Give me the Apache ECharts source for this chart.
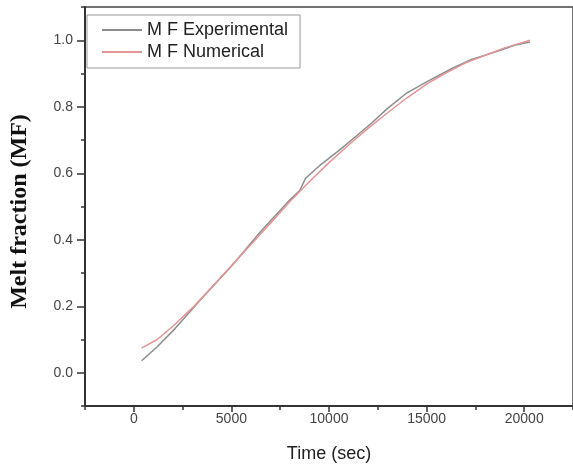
<!DOCTYPE html>
<html>
<head>
<meta charset="utf-8">
<script src="https://cdn.jsdelivr.net/npm/echarts@6/dist/echarts.min.js"></script>
<style>
  html, body { margin: 0; padding: 0; background: #fff; }
  #chart { width: 573px; height: 468px; }
</style>
</head>
<body>
<div id="chart"></div>
<script>
// time (sec) / melt fraction
const expTime = [400, 1200, 2100, 3500, 5000, 6500, 8000, 8500, 8800, 9500, 10500, 11400, 12200, 13000, 14000, 15000, 16300, 17300, 18700, 19500, 20300]
const expMF = [0.036, 0.078, 0.132, 0.225, 0.32, 0.425, 0.52, 0.548, 0.585, 0.622, 0.668, 0.712, 0.752, 0.795, 0.842, 0.875, 0.915, 0.942, 0.968, 0.985, 0.995]
const numTime = [400, 1200, 2000, 3000, 4000, 5000, 6000, 7000, 8000, 9000, 10000, 11000, 12000, 13000, 14000, 15000, 16000, 17000, 18000, 19000, 20300]
const numMF = [0.074, 0.100, 0.140, 0.195, 0.258, 0.322, 0.386, 0.45, 0.515, 0.575, 0.632, 0.685, 0.735, 0.782, 0.827, 0.868, 0.902, 0.932, 0.955, 0.977, 1.0]

const xMajor = [0, 5000, 10000, 15000, 20000]
const xMinor = [-2500, 2500, 7500, 12500, 17500, 22500]
const yMajor = [0, 0.2, 0.4, 0.6, 0.8, 1.0]
const yMinor = [-0.1, 0.1, 0.3, 0.5, 0.7, 0.9, 1.1]

const chart = echarts.init(document.getElementById('chart'))

const pairs = (xs, ys) => xs.map((x, i) => [x, ys[i]])
const axisColor = '#333'
const tickFont = { fontFamily: 'Liberation Sans', fontSize: 14, color: '#444' }

chart.setOption({
  animation: false,
  grid: {
    left: 84,
    right: -2,
    top: 7,
    bottom: 60,
    show: true,
    borderColor: '#444',
    borderWidth: 1.5
  },
  legend: {
    left: 87,
    top: 15,
    orient: 'vertical',
    itemWidth: 40,
    itemHeight: 16,
    itemGap: 4,
    padding: [6, 12, 7, 14],
    borderColor: '#999',
    borderWidth: 1,
    itemStyle: { opacity: 0 },
    textStyle: { fontFamily: 'Liberation Sans', fontSize: 18, color: '#222' },
    data: ['M F Experimental', 'M F Numerical']
  },
  xAxis: [
    {
      type: 'value',
      min: -2500,
      max: 22500,
      name: 'Time (sec)',
      nameLocation: 'middle',
      nameGap: 39,
      nameTextStyle: { fontFamily: 'Liberation Sans', fontSize: 18, color: '#222' },
      splitLine: { show: false },
      axisLine: { onZero: false, lineStyle: { color: axisColor, width: 2 } },
      axisTick: { customValues: xMajor, length: 6, lineStyle: { color: axisColor, width: 1.5 } },
      axisLabel: Object.assign({ customValues: xMajor, margin: 6, formatter: v => String(v) }, tickFont)
    },
    {
      type: 'value',
      min: -2500,
      max: 22500,
      position: 'bottom',
      splitLine: { show: false },
      axisLine: { show: false, onZero: false },
      axisTick: { customValues: xMinor, length: 4, lineStyle: { color: axisColor, width: 1.5 } },
      axisLabel: { show: false }
    }
  ],
  yAxis: [
    {
      type: 'value',
      min: -0.1,
      max: 1.1,
      name: 'Melt fraction (MF)',
      nameLocation: 'middle',
      nameGap: 53,
      nameTextStyle: { fontFamily: 'Liberation Serif', fontSize: 24, fontWeight: 'bold', color: '#111', padding: [0, 10, 0, 0] },
      splitLine: { show: false },
      axisLine: { onZero: false, lineStyle: { color: axisColor, width: 2 } },
      axisTick: { customValues: yMajor, length: 8, lineStyle: { color: axisColor, width: 1.5 } },
      axisLabel: Object.assign({ customValues: yMajor, margin: 12, formatter: v => v.toFixed(1) }, tickFont)
    },
    {
      type: 'value',
      min: -0.1,
      max: 1.1,
      position: 'left',
      splitLine: { show: false },
      axisLine: { show: false, onZero: false },
      axisTick: { customValues: yMinor, length: 4, lineStyle: { color: axisColor, width: 1.5 } },
      axisLabel: { show: false }
    }
  ],
  series: [
    {
      name: 'M F Experimental',
      type: 'line',
      symbol: 'none',
      color: '#8c8c8c',
      lineStyle: { width: 1.5 },
      data: pairs(expTime, expMF)
    },
    {
      name: 'M F Numerical',
      type: 'line',
      symbol: 'none',
      color: '#e39595',
      lineStyle: { width: 1.5 },
      data: pairs(numTime, numMF)
    }
  ]
})
</script>
</body>
</html>
